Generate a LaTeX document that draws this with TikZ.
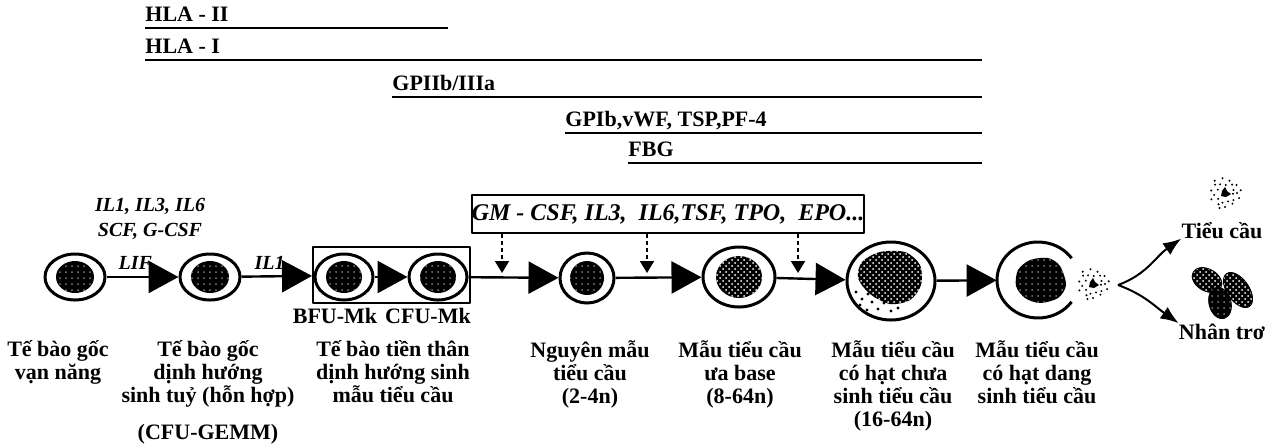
\documentclass[tikz,border=0pt]{standalone}
\usepackage{fontspec}
\setmainfont{Liberation Serif}
\usetikzlibrary{arrows.meta,patterns,shapes.geometric,positioning}

\begin{document}
\begin{tikzpicture}[x=0.5pt, y=0.5pt, line join=round,
  lbl/.style={font=\fontsize{11}{11.5}\selectfont\bfseries, align=center, inner sep=0pt, anchor=base},
  fac/.style={font=\fontsize{10}{12.5}\selectfont\bfseries\itshape, align=center, inner sep=0pt},
  bartxt/.style={font=\fontsize{11}{12}\selectfont\bfseries, inner sep=0pt, anchor=base west},
  bar/.style={line width=1.3pt},
  cell/.style={draw, ellipse, line width=1.5pt, fill=white, inner sep=0pt},
  nucleus/.style={pattern=dots, pattern color=gray, preaction={fill=black}},
  grid nucleus/.style={pattern=crosshatch dots, pattern color=white, preaction={fill=black}},
  step arrow/.style={line width=1.2pt, -{Triangle[length=15pt,width=16pt]}},
  factor arrow/.style={line width=0.9pt, dash pattern=on 2pt off 1.5pt, -{Triangle[length=6pt,width=7pt]}},
  split arrow/.style={line width=1pt, -{Latex[length=9pt,width=7pt]}},
  platelet/.pic={
    \fill (-3,2) -- (0,6) -- (2,2) -- (6,-1) -- (1,-4) -- (-4,-3) -- cycle;
    \foreach \a/\r in {0/12,20/9,35/14,50/11,70/13,85/8,100/15,120/10,140/13,155/8,170/14,190/11,
                       205/15,220/9,240/13,255/10,270/14,290/9,305/13,320/11,340/15,355/8,10/16,130/16,250/16}
      \fill (\a:\r) circle (1.1);
  }
]
\useasboundingbox (0,0) rectangle (1272,-446);

% surface markers
\node[bartxt] (hla2) at (145,-21) {HLA - II};
\draw[bar] (145,-28) -- (448,-28);
\node[bartxt] (hla1) at (145,-53) {HLA - I};
\draw[bar] (145,-60) -- (982,-60);
\node[bartxt] (gp2) at (392,-90) {GPIIb/IIIa};
\draw[bar] (392,-97) -- (982,-97);
\node[bartxt] (gp1) at (565,-126) {GPIb,vWF, TSP,PF-4};
\draw[bar] (565,-133) -- (982,-133);
\node[bartxt] (fbg) at (628,-156) {FBG};
\draw[bar] (628,-163) -- (982,-163);

% growth factors
\node[fac] (stem) at (150,-219) {IL1, IL3, IL6\\SCF, G-CSF};
\node[draw, line width=1pt, minimum width=195pt, minimum height=19pt, inner sep=0pt,
      font=\fontsize{12}{12}\selectfont\bfseries\itshape] (gf) at (668,-214)
      {GM - CSF, IL3,\enspace IL6,TSF, TPO,\enspace EPO...};

% progenitor box
\node[draw, line width=1pt, minimum width=78.5pt, minimum height=28pt, inner sep=0pt] (mk) at (391.5,-275) {};

% cells
\node[cell, minimum width=30pt, minimum height=23pt] (c1) at (75,-277) {};
\node[cell, minimum width=30pt, minimum height=23pt] (c2) at (210,-277) {};
\node[cell, minimum width=29pt, minimum height=23pt] (c3) at (344,-277) {};
\node[cell, minimum width=29pt, minimum height=23pt] (c4) at (438,-277) {};
\node[cell, minimum width=27pt, minimum height=25pt] (c5) at (587,-278) {};
\node[cell, minimum width=36pt, minimum height=30pt] (c6) at (739,-277) {};
\node[cell, minimum width=44pt, minimum height=39pt] (c7) at (891,-281) {};
\node[ellipse, minimum width=41pt, minimum height=38pt, inner sep=0pt] (c8) at (1038,-280) {};

\fill[nucleus] (c1.center) ellipse [x radius=19, y radius=16];
\fill[nucleus] (c2.center) ellipse [x radius=19, y radius=16];
\fill[nucleus] (c3.center) ellipse [x radius=18, y radius=16];
\fill[nucleus] (c4.center) ellipse [x radius=18, y radius=16];
\fill[nucleus] (c5.center) ellipse [x radius=17, y radius=17];
\fill[grid nucleus] (c6.center) ellipse [x radius=23, y radius=21];

% granular megakaryocyte
\fill[grid nucleus] plot[smooth cycle] coordinates {(862,-262) (880,-252) (905,-252) (920,-265)
  (921,-285) (910,-300) (890,-304) (870,-294) (858,-278)};
\foreach \p in {(856,-292),(862,-299),(868,-294),(860,-305),(872,-302),(878,-309),
                (884,-303),(867,-310),(891,-311),(875,-296),(898,-308)}
  \fill \p circle (1.6);

% platelet-forming megakaryocyte
\draw[line width=1.5pt] (c8.center) ++(35:41 and 38) arc[start angle=35, end angle=325, x radius=41, y radius=38];
\fill[nucleus] plot[smooth cycle] coordinates {(1018,-270) (1030,-260) (1048,-258) (1060,-266)
  (1066,-285) (1058,-298) (1040,-303) (1025,-298) (1016,-286)};
\pic at (1093,-284) {platelet};

% maturation arrows
\draw[step arrow] (c1) -- (c2) node[fac, pos=.4, above=3pt] {LIF};
\draw[step arrow] (c2) -- (mk) node[fac, pos=.4, above=3pt] {IL1};
\draw[step arrow] (c3) -- (c4);
\draw[step arrow] (c4) -- (c5);
\draw[step arrow] (c5) -- (c6);
\draw[step arrow] (c6) -- (c7);
\draw[step arrow] (c7) -- (c8);

\coordinate (d1) at (502,-273);
\coordinate (d2) at (647,-273);
\coordinate (d3) at (798,-273);
\draw[factor arrow] (gf.south -| d1) -- (d1);
\draw[factor arrow] (gf.south -| d2) -- (d2);
\draw[factor arrow] (gf.south -| d3) -- (d3);

% labels
\node[lbl] (bfu) at (335,-323) {BFU-Mk};
\node[lbl] (cfu) at (428,-323) {CFU-Mk};
\node[lbl, anchor=north] (l1) at (58,-340) {Tế bào gốc\\vạn năng};
\node[lbl, anchor=north] (l2) at (208,-340) {Tế bào gốc\\dịnh hướng\\sinh tuỷ (hỗn hợp)};
\node[lbl] (gemm) at (208,-439) {(CFU-GEMM)};
\node[lbl, anchor=north] (l3) at (393,-340) {Tế bào tiền thân\\dịnh hướng sinh\\mẫu tiểu cầu};
\node[lbl, anchor=north] (l4) at (590,-340) {Nguyên mẫu\\tiểu cầu\\(2-4n)};
\node[lbl, anchor=north] (l5) at (740,-340) {Mẫu tiểu cầu\\ưa base\\(8-64n)};
\node[lbl, anchor=north] (l6) at (893,-340) {Mẫu tiểu cầu\\có hạt chưa\\sinh tiểu cầu\\(16-64n)};
\node[lbl, anchor=north] (l7) at (1037,-340) {Mẫu tiểu cầu\\có hạt dang\\sinh tiểu cầu};

% products
\pic at (1225,-193) {platelet};
\node[lbl] (tc) at (1222,-238) {Tiểu cầu};
\fill[grid nucleus, draw, thin, rotate around={-30:(1207,-280)}] (1207,-280) ellipse [x radius=16, y radius=11];
\fill[grid nucleus, draw, thin, rotate around={-55:(1238,-290)}] (1238,-290) ellipse [x radius=20, y radius=11];
\fill[nucleus, draw, thin, rotate around={15:(1220,-303)}] (1220,-303) ellipse [x radius=11, y radius=16];
\node[lbl] (nt) at (1222,-339) {Nhân trơ};

\coordinate (br) at (1118,-285);
\draw[split arrow] (br) to[out=20, in=215] (tc.south west);
\draw[split arrow] (br) to[out=-20, in=145] (nt.north west);
\end{tikzpicture}
\end{document}
